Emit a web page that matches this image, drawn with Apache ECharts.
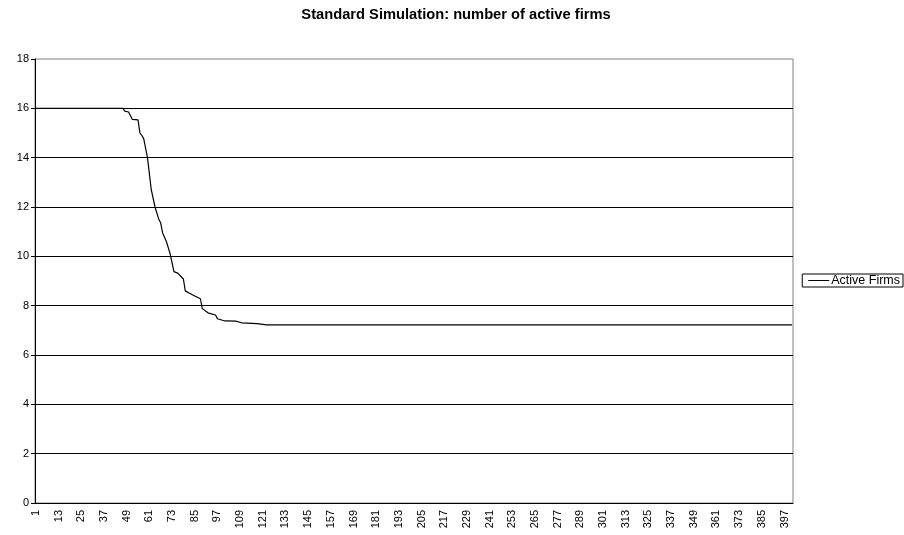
<!DOCTYPE html>
<html>
<head>
<meta charset="utf-8">
<script src="https://cdn.jsdelivr.net/npm/echarts@6/dist/echarts.min.js"></script>
<style>
html,body{margin:0;padding:0;background:#fff;}
#chart{width:904px;height:535px;}
</style>
</head>
<body>
<div id="chart"></div>
<script>
// Number of simulated periods (category axis labels 1..N)
var periodCount = 401;
// Periods where the curve changes
var stepPeriods = [1, 47, 48, 50, 51, 52, 55, 56, 57, 58, 60, 62, 64, 66, 67, 68, 70, 71, 72, 74, 76, 79, 80, 82, 85, 88, 89, 92, 96, 97, 101, 107, 110, 118, 123, 401];
// Average number of active firms at those periods
var activeFirms = [16, 16, 15.89, 15.85, 15.77, 15.55, 15.53, 15.0, 14.9, 14.77, 14.0, 12.7, 12.0, 11.5, 11.35, 10.95, 10.6, 10.6, 10.1, 9.38, 9.32, 9.08, 8.6, 8.51, 8.39, 8.28, 7.88, 7.71, 7.62, 7.47, 7.38, 7.37, 7.30, 7.27, 7.22, 7.22];
var seriesName = 'Active Firms';
var titleText = 'Standard Simulation: number of active firms';

var categories = [];
for (var i = 1; i <= periodCount; i++) categories.push(String(i));
var seriesData = stepPeriods.map(function (p, k) { return [p - 1, activeFirms[k]]; });

var chart = echarts.init(document.getElementById('chart'), null, {renderer: 'canvas'});
var font = 'Arial, "Liberation Sans", sans-serif';
chart.setOption({
  animation: false,
  backgroundColor: '#ffffff',
  title: {
    text: titleText,
    left: 451, top: 2, textAlign: 'center',
    textStyle: {fontFamily: font, fontSize: 14.7, fontWeight: 'bold', color: '#000'}
  },
  legend: {
    right: 1, top: 274,
    data: [{name: seriesName, icon: 'rect'}],
    itemWidth: 21, itemHeight: 1, itemGap: 0,
    borderColor: '#000', borderWidth: 1, borderRadius: 0,
    padding: [0, 3, 0, 6],
    textStyle: {fontFamily: font, fontSize: 12.5, lineHeight: 12, color: '#000', padding: [0, 0, 0, -3]}
  },
  grid: {left: 35, right: 111, top: 59, bottom: 32, show: true, borderColor: '#808080', borderWidth: 1, containLabel: false},
  xAxis: {
    type: 'category', data: categories, boundaryGap: true,
    axisLine: {lineStyle: {color: '#000', width: 1}},
    axisTick: {show: false},
    axisLabel: {interval: 11, rotate: 90, margin: 7, fontFamily: font, fontSize: 11, color: '#000'},
    splitLine: {show: false}
  },
  yAxis: {
    type: 'value', min: 0, max: 18, interval: 2,
    axisLine: {show: true, lineStyle: {color: '#000', width: 1}},
    axisTick: {show: true, length: 4, lineStyle: {color: '#000'}},
    axisLabel: {margin: 6, fontFamily: font, fontSize: 11, color: '#000'},
    splitLine: {show: true, showMaxLine: false, lineStyle: {color: '#000', width: 1}}
  },
  series: [{
    name: seriesName, type: 'line', data: seriesData,
    showSymbol: false, symbol: 'none',
    lineStyle: {color: '#000', width: 1.2},
    itemStyle: {color: '#000'}
  }]
});
</script>
</body>
</html>
